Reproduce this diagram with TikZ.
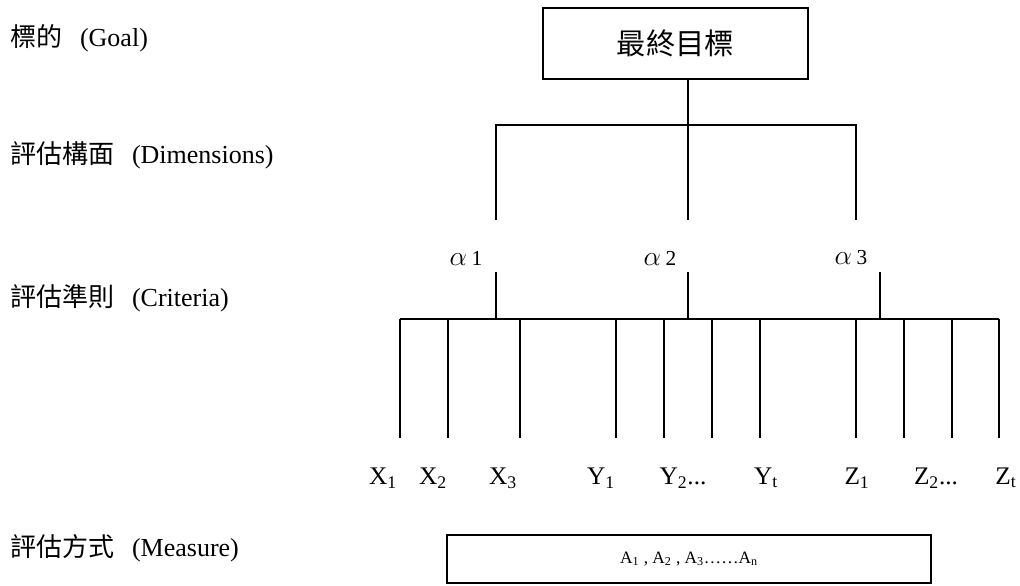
\documentclass[tikz,border=0pt]{standalone}
\usepackage{fontspec}
\setmainfont{Liberation Serif}
\newfontfamily\cjk{Noto Sans CJK TC}
\newcommand{\lvlname}[2]{{\cjk #1}\hspace{13pt}(#2)}
\begin{document}
\begin{tikzpicture}[x=0.75pt,y=-0.75pt,line width=1.1pt,
    level/.style={anchor=west,inner sep=0pt,font=\fontsize{19.5}{22}\selectfont},
    leaf/.style={inner sep=0pt,font=\fontsize{19}{22}\selectfont},
    weight/.style={inner sep=0pt,font=\fontsize{21}{24}\selectfont},
    frame/.style={draw,line width=1.3pt,inner sep=0pt}]
    \useasboundingbox (0,0) rectangle (1020,585);

    % level names down the left side
    \node[level] (goal)     at (10, 38)  {\lvlname{標的}{Goal}};
    \node[level] (dims)     at (10, 155) {\lvlname{評估構面}{Dimensions}};
    \node[level] (criteria) at (10, 298) {\lvlname{評估準則}{Criteria}};
    \node[level] (measure)  at (10, 548) {\lvlname{評估方式}{Measure}};

    % top of the tree
    \node[frame,minimum width=198.75pt,minimum height=53.25pt,
          font=\fontsize{22}{26}\selectfont] (top) at (675.5,43.5) {\cjk 最終目標};

    \coordinate (dimbar) at (688,125);
    \coordinate (d1) at (496,220);
    \coordinate (d2) at (688,220);
    \coordinate (d3) at (856,220);
    \draw (top.south -| dimbar) -- (dimbar);
    \draw (d1) |- (dimbar) -| (d3);
    \draw (dimbar) -- (d2);

    % dimension weights
    \node[weight] (a1) at (466,258) {$\alpha$\,{\fontsize{16}{18}\selectfont 1}};
    \node[weight] (a2) at (660,258) {$\alpha$\,{\fontsize{16}{18}\selectfont 2}};
    \node[weight] (a3) at (851,258) {$\alpha$\,{\fontsize{16}{18}\selectfont 3}};

    \coordinate (b1) at (496,272);
    \coordinate (b2) at (688,272);
    \coordinate (b3) at (880,272);
    \coordinate (barL) at (400,319);
    \coordinate (barR) at (999,319);
    \draw (barL) -- (barR);
    \foreach \i in {1,2,3}{
        \draw (b\i) -- (b\i |- barL);
    }

    % criteria under each dimension
    \foreach \x [count=\i] in {400,448,520,616,664,712,760,856,904,952,999}{
        \coordinate (c\i) at (\x,319);
        \coordinate (e\i) at (\x,438);
        \draw (c\i) -- (e\i);
    }

    \node[leaf] (x1) at (383,478) {X\textsubscript{1}};
    \node[leaf] (x2) at (433,478) {X\textsubscript{2}};
    \node[leaf] (x3) at (503,478) {X\textsubscript{3}};
    \node[leaf] (y1) at (601,478) {Y\textsubscript{1}};
    \node[leaf] (y2) at (683,478) {Y\textsubscript{2}...};
    \node[leaf] (yt) at (766,478) {Y\textsubscript{t}};
    \node[leaf] (z1) at (857,478) {Z\textsubscript{1}};
    \node[leaf] (z2) at (936,478) {Z\textsubscript{2}...};
    \node[leaf] (zt) at (1006,478) {Z\textsubscript{t}};

    % measurement box
    \node[frame,minimum width=363pt,minimum height=36pt,
          font=\fontsize{13}{15}\selectfont] (alts) at (689,559)
          {A\textsubscript{1} , A\textsubscript{2} , A\textsubscript{3}……A\textsubscript{n}};
\end{tikzpicture}
\end{document}
